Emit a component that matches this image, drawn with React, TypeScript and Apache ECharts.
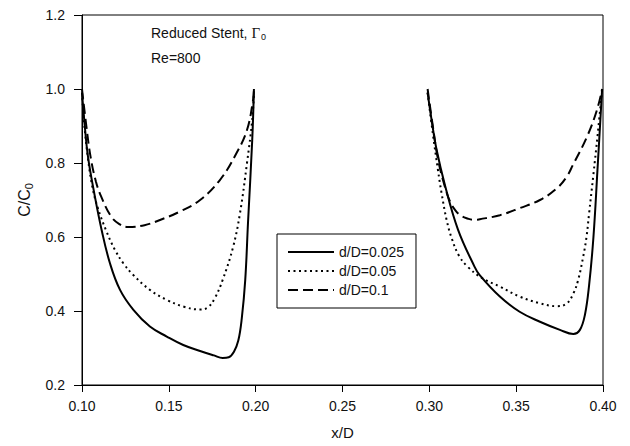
import React, { useEffect, useRef } from "react";
import * as echarts from "echarts";

// d/D = 0.025 (solid)
const solidA: [number, number][] = [
  [0.1, 0.99], [0.1015, 0.905], [0.1035, 0.815], [0.107, 0.72], [0.1113, 0.619], [0.1161, 0.529],
  [0.1219, 0.457], [0.1296, 0.403], [0.1391, 0.358], [0.1488, 0.331], [0.1583, 0.308],
  [0.168, 0.292], [0.176, 0.28], [0.181, 0.273], [0.1845, 0.275], [0.1875, 0.29], [0.19, 0.32],
  [0.192, 0.38], [0.194, 0.484], [0.1956, 0.64], [0.198, 0.86], [0.199, 1.0],
];
const solidB: [number, number][] = [
  [0.299, 0.99], [0.3015, 0.91], [0.304, 0.84], [0.309, 0.74], [0.3165, 0.62], [0.326, 0.52],
  [0.329, 0.497], [0.3406, 0.439], [0.352, 0.398], [0.3637, 0.371], [0.3752, 0.349],
  [0.3829, 0.338], [0.3867, 0.349], [0.3896, 0.39], [0.392, 0.47], [0.3945, 0.6],
  [0.3968, 0.78], [0.3995, 1.0],
];
// d/D = 0.05 (dotted)
const dottedA: [number, number][] = [
  [0.1, 0.99], [0.1012, 0.91], [0.1035, 0.81], [0.106, 0.735], [0.109, 0.68], [0.1142, 0.614],
  [0.119, 0.565], [0.1238, 0.529], [0.1296, 0.497], [0.1391, 0.457], [0.1488, 0.43],
  [0.1583, 0.412], [0.168, 0.404], [0.1725, 0.41], [0.1765, 0.435], [0.181, 0.484],
  [0.187, 0.573], [0.191, 0.665], [0.195, 0.8], [0.198, 0.916], [0.199, 0.99],
];
const dottedB: [number, number][] = [
  [0.299, 0.99], [0.302, 0.88], [0.305, 0.78], [0.307, 0.72], [0.31, 0.645], [0.313, 0.595],
  [0.317, 0.55], [0.322, 0.52], [0.33, 0.49], [0.3406, 0.466], [0.352, 0.439], [0.3637, 0.421],
  [0.3733, 0.413], [0.379, 0.42], [0.383, 0.448], [0.3857, 0.484], [0.3886, 0.547], [0.3905, 0.6],
  [0.392, 0.664], [0.3945, 0.77], [0.397, 0.88], [0.3995, 1.0],
];
// d/D = 0.1 (dashed)
const dashedA: [number, number][] = [
  [0.1, 1.0], [0.1025, 0.9], [0.105, 0.815], [0.108, 0.75], [0.111, 0.71], [0.1167, 0.656],
  [0.1215, 0.635], [0.1265, 0.627], [0.136, 0.632], [0.146, 0.648], [0.156, 0.668], [0.168, 0.7],
  [0.1794, 0.754], [0.189, 0.827], [0.195, 0.889], [0.1985, 0.97], [0.199, 1.0],
];
const dashedB: [number, number][] = [
  [0.299, 1.0], [0.302, 0.9], [0.305, 0.81], [0.309, 0.735], [0.312, 0.695], [0.315, 0.672],
  [0.318, 0.658], [0.322, 0.65], [0.326, 0.646], [0.3291, 0.648], [0.3406, 0.659], [0.352, 0.678],
  [0.3637, 0.7], [0.3733, 0.731], [0.379, 0.762], [0.3827, 0.795], [0.3907, 0.87], [0.3965, 0.943],
  [0.3995, 1.0],
];

const seriesNames = ["d/D=0.025", "d/D=0.05", "d/D=0.1"];
const FONT = "'Liberation Sans', Arial, Helvetica, sans-serif";

export default function App() {
  const ref = useRef<HTMLDivElement>(null);
  useEffect(() => {
    if (!ref.current) return;
    const chart = echarts.init(ref.current, undefined, { renderer: "svg" });
    const mk = (name: string, data: [number, number][], type: any) => ({
      name,
      type: "line",
      data,
      symbol: "none",
      smooth: 0.4,
      lineStyle: { color: "#000", width: 2, type, cap: "butt" },
      itemStyle: { color: "#000" },
    });
    chart.setOption({
      animation: false,
      backgroundColor: "#fff",
      textStyle: { fontFamily: FONT },
      grid: { left: 82, right: 27, top: 15, bottom: 61, show: true, borderColor: "#000", borderWidth: 1, backgroundColor: "transparent" },
      xAxis: {
        type: "value",
        min: 0.1,
        max: 0.4,
        interval: 0.05,
        name: "x/D",
        nameLocation: "middle",
        nameGap: 40,
        nameTextStyle: { fontSize: 15, color: "#111", fontFamily: FONT },
        axisLine: { show: true, lineStyle: { color: "#000", width: 1 } },
        axisTick: { show: true, inside: false, length: 7, lineStyle: { color: "#000" } },
        axisLabel: { fontSize: 14, color: "#111", margin: 14, fontFamily: FONT, formatter: (v: number) => v.toFixed(2) },
        splitLine: { show: false },
      },
      yAxis: {
        type: "value",
        min: 0.2,
        max: 1.2,
        interval: 0.2,
        name: "{a|C/C}{s|0}",
        nameLocation: "middle",
        nameGap: 48,
        nameTextStyle: {
          color: "#111",
          rich: {
            a: { fontSize: 16, fontFamily: FONT, color: "#111" },
            s: { fontSize: 11, fontFamily: FONT, color: "#111", verticalAlign: "bottom", padding: [8, 0, 0, 0] },
          },
        },
        axisLine: { show: true, lineStyle: { color: "#000", width: 1 } },
        axisTick: { show: true, inside: false, length: 8, lineStyle: { color: "#000" } },
        axisLabel: { fontSize: 14, color: "#111", margin: 17, fontFamily: FONT, formatter: (v: number) => v.toFixed(1) },
        splitLine: { show: false },
      },
      legend: {
        data: seriesNames,
        orient: "vertical",
        left: 277,
        top: 234,
        padding: [11, 12, 11, 10],
        itemWidth: 46,
        itemHeight: 14,
        itemGap: 5,
        backgroundColor: "#fff",
        borderColor: "#000",
        borderWidth: 1,
        borderRadius: 0,
        itemStyle: { color: "transparent", borderWidth: 0, opacity: 0 },
        textStyle: { fontSize: 14, color: "#111", fontFamily: FONT },
      },
      graphic: [
        {
          type: "text",
          left: 151,
          top: 25,
          style: {
            text: "{a|Reduced Stent, }{g|Γ}{s|0}",
            rich: {
              a: { fontSize: 14, fontFamily: FONT, fill: "#111" },
              g: { fontSize: 15, fontFamily: "'Liberation Serif', 'DejaVu Serif', serif", fill: "#111" },
              s: { fontSize: 9, fontFamily: FONT, fill: "#111", padding: [8, 0, 0, 1] },
            },
          },
        },
        {
          type: "text",
          left: 151,
          top: 51,
          style: { text: "Re=800", fontSize: 14, fontFamily: FONT, fill: "#111" },
        },
      ],
      series: [
        mk(seriesNames[0], solidA, "solid"),
        mk(seriesNames[0], solidB, "solid"),
        mk(seriesNames[1], dottedA, [2, 3.5]),
        mk(seriesNames[1], dottedB, [2, 3.5]),
        mk(seriesNames[2], dashedA, [10, 5]),
        mk(seriesNames[2], dashedB, [10, 5]),
      ],
    });
    return () => chart.dispose();
  }, []);
  return <div ref={ref} style={{ width: 630, height: 446, margin: -8 }} />;
}
